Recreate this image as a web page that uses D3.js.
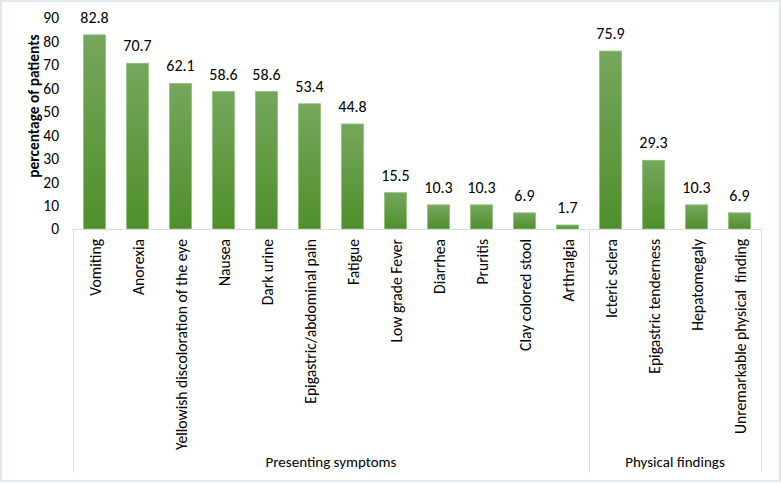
<!DOCTYPE html>
<html>
<head>
<meta charset="utf-8">
<script src="https://cdn.jsdelivr.net/npm/d3@7"></script>
<style>
  body { margin: 0; background: #fff; }
  svg { display: block; font-family: Carlito, Lato, "Open Sans", sans-serif; }
</style>
</head>
<body>
<svg id="chart"></svg>
<script>
const svgWidth = 781, svgHeight = 483;
const margin = {top: 18, right: 20, bottom: 254, left: 73};
const width = svgWidth - margin.left - margin.right;
const height = svgHeight - margin.top - margin.bottom;

// symptoms and findings, percentage of patients
const categories = [
  "Vomiting", "Anorexia", "Yellowish discoloration of the eye", "Nausea",
  "Dark urine", "Epigastric/abdominal pain", "Fatigue", "Low grade Fever",
  "Diarrhea", "Pruritis", "Clay colored stool", "Arthralgia",
  "Icteric sclera", "Epigastric tenderness", "Hepatomegaly",
  "Unremarkable physical  finding"
];
const values = [82.8, 70.7, 62.1, 58.6, 58.6, 53.4, 44.8, 15.5, 10.3, 10.3, 6.9, 1.7,
                75.9, 29.3, 10.3, 6.9];
const groups = ["Presenting symptoms", "Physical findings"];
const groupSizes = [12, 4];
const yTicks = [0, 10, 20, 30, 40, 50, 60, 70, 80, 90];

const svg = d3.select("#chart")
  .attr("width", svgWidth)
  .attr("height", svgHeight);

// outer frame
svg.append("rect")
  .attr("x", 1).attr("y", 1)
  .attr("width", svgWidth - 2).attr("height", svgHeight - 3)
  .attr("fill", "#fff")
  .attr("stroke", "#e3e7ee")
  .attr("stroke-width", 2);

const defs = svg.append("defs");
const grad = defs.append("linearGradient")
  .attr("id", "barGrad")
  .attr("x1", 0).attr("y1", 0).attr("x2", 0).attr("y2", 1);
grad.append("stop").attr("offset", "0%").attr("stop-color", "#75a75c");
grad.append("stop").attr("offset", "100%").attr("stop-color", "#4f8f2b");

const g = svg.append("g")
  .attr("transform", "translate(" + margin.left + "," + margin.top + ")");

const x = d3.scaleBand().domain(categories).range([0, width]).paddingInner(0.49).paddingOuter(0.245);
const y = d3.scaleLinear().domain([0, 90]).range([height, 0]);

// y axis labels (no axis line)
const yAxis = g.append("g")
  .call(d3.axisLeft(y).tickValues(yTicks).tickSize(0).tickPadding(14));
yAxis.select(".domain").remove();
yAxis.selectAll("text")
  .attr("fill", "#000")
  .style("font-size", "15.5px")
  .style("font-family", "Carlito, Lato, 'Open Sans', sans-serif");

g.append("text")
  .attr("transform", "rotate(-90)")
  .attr("x", -88)
  .attr("y", -34)
  .style("text-anchor", "middle")
  .style("font-size", "15.4px")
  .style("font-weight", "bold")
  .text("percentage of patients");

// bars
g.selectAll(".bar")
  .data(values)
  .enter().append("rect")
  .attr("class", "bar")
  .attr("x", (d, i) => x(categories[i]))
  .attr("y", d => y(d))
  .attr("width", x.bandwidth())
  .attr("height", d => height - y(d))
  .attr("fill", "url(#barGrad)")
  .attr("stroke", "#8fbf78")
  .attr("stroke-width", 0.8);

g.selectAll(".val")
  .data(values)
  .enter().append("text")
  .attr("class", "val")
  .attr("x", (d, i) => x(categories[i]) + x.bandwidth() / 2)
  .attr("y", d => y(d) - 12)
  .style("text-anchor", "middle")
  .style("font-size", "16px")
  .text(d => d);

// category axis with group dividers
const axisColor = "#d9dde3";
const lineBottom = 473 - margin.top;
g.append("line")
  .attr("x1", 0).attr("x2", width)
  .attr("y1", height + 0.5).attr("y2", height + 0.5)
  .attr("stroke", axisColor);

let start = 0;
const bounds = [0];
groupSizes.forEach(s => { start += s; bounds.push(start); });
const step = x.step();
const xAt = k => x(categories[0]) - x.paddingOuter() * step + k * step;
bounds.forEach(k => {
  const px = Math.round(Math.min(xAt(k), width)) + 0.5;
  g.append("line")
    .attr("x1", px).attr("x2", px)
    .attr("y1", height).attr("y2", lineBottom)
    .attr("stroke", axisColor);
});

g.selectAll(".cat")
  .data(categories)
  .enter().append("text")
  .attr("class", "cat")
  .attr("transform", d => "translate(" + (x(d) + x.bandwidth() / 2 + 6) + "," + (height + 10) + ") rotate(-90)")
  .style("text-anchor", "end")
  .style("white-space", "pre")
  .style("font-size", "15.6px")
  .text(d => d);

groups.forEach((name, i) => {
  const cx = (xAt(bounds[i]) + xAt(bounds[i + 1])) / 2;
  g.append("text")
    .attr("x", cx)
    .attr("y", 467 - margin.top)
    .style("text-anchor", "middle")
    .style("font-size", "15px")
    .text(name);
});
</script>
</body>
</html>
